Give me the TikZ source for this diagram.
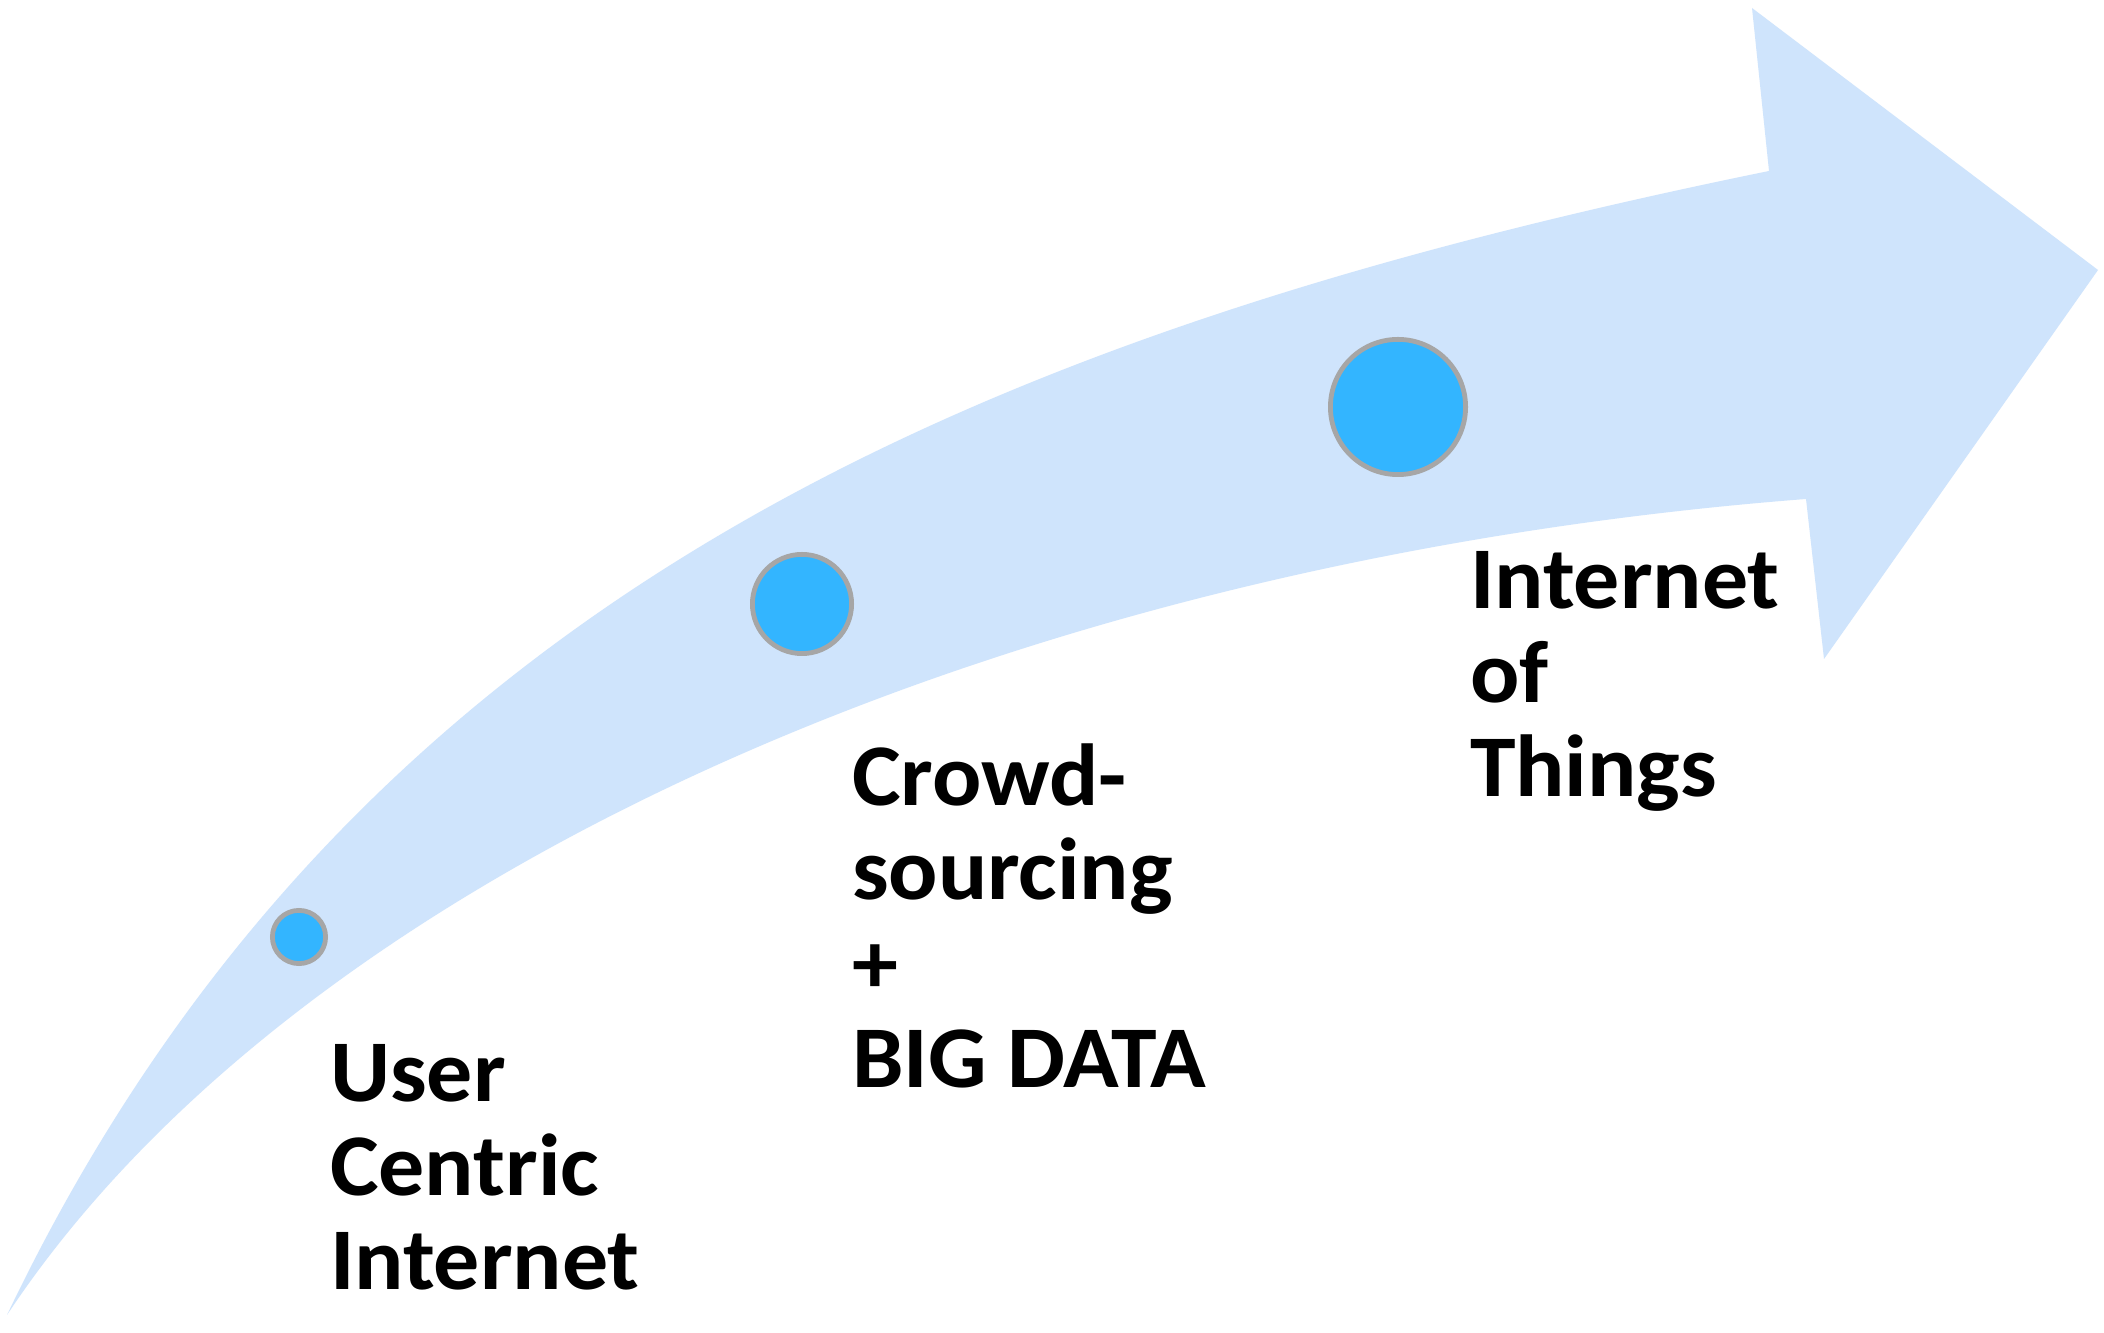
\documentclass[tikz,border=0pt]{standalone}
\usepackage{fontspec}
\setmainfont{Carlito}[FakeStretch=1.045]
\begin{document}
\begin{tikzpicture}[x=1pt,y=1pt,
  dot/.style={circle,draw=lineColor,line width=2.4pt,fill=dotColor,inner sep=0pt},
  stage/.style={text=drawColor,anchor=base west,align=left,inner sep=0pt,outer sep=0pt,
    font=\bfseries\fontsize{44}{47}\selectfont}]
\definecolor{fillColor}{RGB}{255,255,255}
\definecolor{arrowColor}{RGB}{207,228,252}
\definecolor{dotColor}{RGB}{51,181,255}
\definecolor{lineColor}{RGB}{166,166,166}
\definecolor{drawColor}{RGB}{0,0,0}
\path[use as bounding box,fill=fillColor] (0,0) rectangle (1052,666.5);

% curved arrow
\path[fill=arrowColor] (  3.5,  9.0) ..
	controls (175.5,369.0) and (492.5,501.0) .. (884.5,581.0) --
	(876.0,662.5) --
	(1049.0,531.5) --
	(912.0,337.0) --
	(903.0,417.0) ..
	controls (504.0,386.2) and (149.3,229.0) .. (  3.5,  9.0) -- cycle;

% stages
\node[dot,minimum size=26.6pt] (uci) at (149.5,198.0) {};
\node[dot,minimum size=49.6pt] (crowd) at (401.0,364.5) {};
\node[dot,minimum size=67.6pt] (iot) at (699.0,463.0) {};

\node[stage] (uciText) at (165.0, 21.5) {User\\Centric\\Internet};
\node[stage] (crowdText) at (426.0,122.5) {Crowd-\\sourcing\\+\\BIG DATA};
\node[stage] (iotText) at (735.0,268.0) {Internet\\of\\Things};
\end{tikzpicture}
\end{document}
